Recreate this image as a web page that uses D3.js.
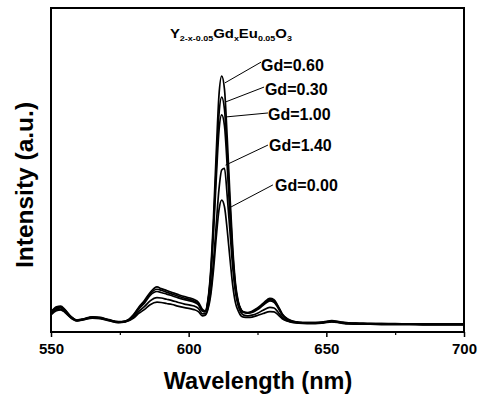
<!DOCTYPE html>
<html>
<head>
<meta charset="utf-8">
<script src="https://cdn.jsdelivr.net/npm/d3@7"></script>
<style>
  html, body { margin: 0; padding: 0; background: #fff; }
  svg { display: block; font-family: "Liberation Sans", Arial, sans-serif; font-weight: bold; }
</style>
</head>
<body>
<svg id="chart"></svg>
<script>
// emission spectra, Y(2-x-0.05)Gd(x)Eu(0.05)O3, intensity in arbitrary units (0..100 = frame)
const wavelength = [
	550, 552, 553.5, 555, 557, 559.5, 562, 565, 568, 571,
	574.5, 577, 580, 582, 584, 586, 588.5, 590, 592, 594,
	596, 598.5, 600.5, 602, 603.5, 605, 606, 607, 608, 609,
	610, 611, 612, 613, 614, 615, 616, 617, 618, 619,
	620, 621.5, 623, 625, 627, 629.5, 631, 632.5, 634, 636,
	638, 640, 643, 646, 649, 652, 655, 658, 662, 666,
	670, 675, 680, 685, 690, 695, 700
];

const gd060 = [
	6.2, 7.8, 8.0, 7.0, 5.0, 3.7, 4.1, 4.7, 4.5, 3.8,
	3.2, 3.4, 5.4, 7.8, 9.8, 12.2, 13.9, 13.4, 12.8, 12.2,
	11.6, 10.9, 10.5, 10.0, 9.2, 7.0, 6.5, 10, 19, 35,
	55, 73, 79, 75, 60, 42, 26, 15, 9.5, 7.0,
	6.2, 6.0, 6.4, 7.4, 8.8, 10.4, 10.0, 8.0, 5.6, 4.0,
	3.3, 3.0, 2.9, 2.9, 3.1, 3.5, 3.1, 2.8, 2.7, 2.6,
	2.6, 2.6, 2.5, 2.5, 2.5, 2.5, 2.5
];
const gd030 = [
	6.0, 7.5, 7.7, 6.8, 4.9, 3.6, 4.0, 4.6, 4.4, 3.7,
	3.1, 3.3, 5.2, 7.5, 9.4, 11.8, 13.2, 12.9, 12.3, 11.7,
	11.1, 10.4, 10.0, 9.6, 8.8, 6.7, 6.3, 9.5, 17.8, 32.5,
	50.6, 67, 72.5, 68.8, 55.2, 38.8, 24.2, 14.2, 9.1, 6.9,
	6.1, 5.9, 6.2, 7.2, 8.5, 10.0, 9.6, 7.7, 5.4, 3.9,
	3.2, 3.0, 2.9, 2.9, 3.0, 3.4, 3.0, 2.8, 2.7, 2.6,
	2.6, 2.5, 2.5, 2.5, 2.5, 2.5, 2.5
];
const gd100 = [
	5.9, 7.3, 7.4, 6.6, 4.8, 3.6, 4.0, 4.5, 4.3, 3.7,
	3.1, 3.3, 5.0, 7.2, 9.0, 11.3, 12.5, 12.2, 11.7, 11.2,
	10.6, 10.0, 9.6, 9.2, 8.4, 6.4, 6.2, 9.2, 16.9, 30.3,
	47, 62, 67, 63.7, 51.2, 36, 22.7, 13.5, 8.9, 6.8,
	6.0, 5.8, 6.0, 6.9, 8.2, 9.6, 9.2, 7.4, 5.2, 3.8,
	3.2, 2.9, 2.8, 2.8, 3.0, 3.3, 3.0, 2.7, 2.6, 2.6,
	2.5, 2.5, 2.5, 2.4, 2.4, 2.4, 2.4
];
const gd140 = [
	5.6, 6.9, 7.0, 6.3, 4.6, 3.5, 3.9, 4.4, 4.2, 3.6,
	3.0, 3.2, 4.6, 6.4, 7.9, 9.6, 10.6, 10.5, 10.1, 9.7,
	9.2, 8.6, 8.3, 8.0, 7.3, 5.6, 5.6, 7.5, 12.5, 21.5,
	33, 44, 50, 50.5, 42, 31, 20, 12.2, 8.0, 6.0,
	5.2, 5.0, 5.2, 5.8, 6.7, 7.6, 7.4, 6.1, 4.5, 3.5,
	3.0, 2.8, 2.7, 2.7, 2.9, 3.2, 2.9, 2.6, 2.5, 2.5,
	2.4, 2.4, 2.4, 2.3, 2.3, 2.3, 2.3
];
const gd000 = [
	5.3, 6.6, 6.8, 6.1, 4.5, 3.4, 3.8, 4.3, 4.1, 3.5,
	2.9, 3.1, 4.3, 5.8, 7.0, 8.4, 9.2, 9.1, 8.8, 8.5,
	8.0, 7.5, 7.2, 6.9, 6.3, 5.0, 5.2, 7.0, 11.3, 19,
	29, 37.6, 40.7, 38.7, 31.5, 22.6, 14.4, 9.0, 6.5, 5.0,
	4.6, 4.5, 4.6, 5.1, 5.7, 6.3, 6.2, 5.3, 4.1, 3.3,
	2.9, 2.7, 2.6, 2.6, 2.8, 3.1, 2.8, 2.5, 2.4, 2.4,
	2.3, 2.3, 2.3, 2.2, 2.2, 2.2, 2.2
];

const seriesNames = ["Gd=0.60", "Gd=0.30", "Gd=1.00", "Gd=1.40", "Gd=0.00"];
const seriesValues = [gd060, gd030, gd100, gd140, gd000];

const xTicks = [550, 600, 650, 700];
const xMinorTicks = [575, 625, 675];

// label callouts, in data units: [curve point] -> [line end], text start/baseline
const calloutFrom = [[613.2, 76.9], [613.4, 71.0], [613.8, 66.4], [613.4, 51.5], [615.4, 38.6]];
const calloutTo   = [[626.3, 83.3], [627.4, 75.6], [628.8, 67.6], [628.8, 57.7], [630.6, 45.4]];
const calloutText = [[626.3, 80.6], [627.7, 73.1], [628.8, 65.3], [629.2, 56.0], [631.4, 43.5]];

const width = 481;
const height = 399;
const margin = { top: 8, right: 17, bottom: 67, left: 51 };

const svg = d3.select("#chart")
	.attr("width", width)
	.attr("height", height);

svg.append("rect").attr("width", width).attr("height", height).attr("fill", "#fff");

const x = d3.scaleLinear([550, 700], [margin.left, width - margin.right]);
const y = d3.scaleLinear([0, 100], [height - margin.bottom, margin.top]);

// spectra
const line = d3.line()
	.x((d, i) => x(wavelength[i]))
	.y(d => y(d))
	.curve(d3.curveMonotoneX);

svg.append("g")
	.attr("fill", "none")
	.attr("stroke", "#000")
	.attr("stroke-width", 1.7)
	.attr("stroke-linejoin", "round")
	.selectAll("path")
	.data(seriesValues)
	.join("path")
	.attr("d", d => line(d));

// frame
svg.append("rect")
	.attr("x", x(550))
	.attr("y", y(100))
	.attr("width", x(700) - x(550))
	.attr("height", y(0) - y(100))
	.attr("fill", "none")
	.attr("stroke", "#000")
	.attr("stroke-width", 2);

// x axis
svg.append("g")
	.attr("transform", `translate(0, ${y(0)})`)
	.call(d3.axisBottom(x).tickValues(xTicks).tickSize(5).tickPadding(6).tickFormat(d3.format("d")))
	.call(g => g.select(".domain").remove())
	.call(g => g.selectAll(".tick line").attr("stroke-width", 1.5))
	.call(g => g.selectAll(".tick text")
		.attr("font-family", "'Liberation Sans', Arial, sans-serif")
		.attr("font-weight", "bold")
		.attr("font-size", 15)
		.attr("fill", "#000"));

svg.append("g")
	.attr("transform", `translate(0, ${y(0)})`)
	.call(d3.axisBottom(x).tickValues(xMinorTicks).tickSize(3).tickFormat(""))
	.call(g => g.select(".domain").remove())
	.call(g => g.selectAll(".tick line").attr("stroke-width", 1.2));

// axis titles
svg.append("text")
	.attr("x", (x(550) + x(700)) / 2 + 0.5)
	.attr("y", 388.5)
	.attr("text-anchor", "middle")
	.attr("font-size", 23.5)
	.text("Wavelength (nm)");

svg.append("text")
	.attr("transform", `translate(33, ${(y(0) + y(100)) / 2 + 15}) rotate(-90)`)
	.attr("text-anchor", "middle")
	.attr("font-size", 24.5)
	.text("Intensity (a.u.)");

// formula
const formula = svg.append("text")
	.attr("x", x(593.2))
	.attr("y", y(90.6))
	.attr("font-size", 12.5);
const parts = [["Y", 0], ["2-x-0.05", 1], ["Gd", 0], ["x", 1], ["Eu", 0], ["0.05", 1], ["O", 0], ["3", 1]];
parts.forEach(([t, sub], i) => {
	const prevSub = i > 0 && parts[i - 1][1];
	formula.append("tspan")
		.attr("font-size", sub ? 7.5 : 12.5)
		.attr("dy", sub ? 2.5 : (prevSub ? -2.5 : 0))
		.text(t);
});
(function stretch() {
	const bb = formula.node().getBBox();
	const sx = 122 / bb.width;
	const fx = x(593.2);
	formula.attr("transform", `translate(${fx}, 0) scale(${sx}, 1) translate(${-fx}, 0)`);
})();

// callouts
const callouts = svg.append("g");
callouts.selectAll("line")
	.data(seriesNames)
	.join("line")
	.attr("x1", (d, i) => x(calloutFrom[i][0]))
	.attr("y1", (d, i) => y(calloutFrom[i][1]))
	.attr("x2", (d, i) => x(calloutTo[i][0]))
	.attr("y2", (d, i) => y(calloutTo[i][1]))
	.attr("stroke", "#000")
	.attr("stroke-width", 1);

callouts.selectAll("text")
	.data(seriesNames)
	.join("text")
	.attr("x", (d, i) => x(calloutText[i][0]))
	.attr("y", (d, i) => y(calloutText[i][1]))
	.attr("font-size", 16)
	.text(d => d);
</script>
</body>
</html>
